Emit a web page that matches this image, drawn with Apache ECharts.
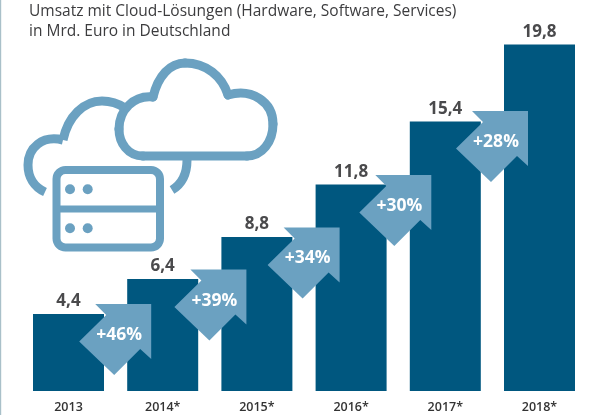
<!DOCTYPE html>
<html><head><meta charset="utf-8">
<style>html,body{margin:0;padding:0;background:#fff}#c{width:600px;height:415px}</style>
<script src="https://cdn.jsdelivr.net/npm/echarts@6/dist/echarts.min.js"></script>
</head><body><div id="c"></div>
<script>
const categories = ['2013','2014*','2015*','2016*','2017*','2018*'];
const values = [4.4,6.4,8.8,11.8,15.4,19.8];
const valueLabels = ['4,4','6,4','8,8','11,8','15,4','19,8'];
const growthLabels = ['+46%','+39%','+34%','+30%','+28%'];
const growthAnchor = [4.97,6.94,9.35,12.34,16.0];
const growthCats = [1,2,3,4,5];

const ARROW=[[0,0],[-56,0],[-45,11],[-72,37.5],[-37,71],[-11,45],[0,55]];
const NUDGE=[-11.5,-10.5,-11.5,-14,-11.5];
const cloud='#6ba1c1', bar='#00577f', ink='#4a4a4c';
const font='"Open Sans"';
const chart=echarts.init(document.getElementById('c'),null,{renderer:'canvas'});
const stroke={fill:'none',stroke:cloud,lineWidth:9,lineCap:'round'};
const butt={fill:'none',stroke:cloud,lineWidth:9,lineCap:'butt'};
function curves(start,segs,style){
  let p=start;
  return segs.map(s=>{
    const el={type:'bezierCurve',silent:true,style:style||stroke,
      shape:{x1:p[0],y1:p[1],cpx1:s[0],cpy1:s[1],cpx2:s[2],cpy2:s[3],x2:s[4],y2:s[5]}};
    p=[s[4],s[5]];
    return el;
  });
}
chart.setOption({
 animation:false,
 backgroundColor:'#fff',
 grid:{left:21.4,right:13.4,top:41,bottom:24},
 xAxis:{type:'category',data:categories,axisLine:{show:false},axisTick:{show:false},
   axisLabel:{color:'#333',fontFamily:font,fontWeight:600,fontSize:12.5,margin:9.5}},
 yAxis:{type:'value',min:0,max:20,show:false,splitLine:{show:false}},
 series:[
  {type:'bar',data:values,barWidth:71,itemStyle:{color:bar},z:2,
   label:{show:true,position:'top',distance:4,color:ink,fontFamily:font,fontWeight:700,fontSize:17,
     formatter:p=>valueLabels[p.dataIndex]}},
  {type:'custom',z:3,data:growthCats.map((c,i)=>[c,growthAnchor[i],growthLabels[i]]),
   encode:{x:0,y:1},
   renderItem(params,api){
     const p=api.coord([api.value(0),api.value(1)]);
     const x=p[0]+NUDGE[params.dataIndex],y=p[1];
     return {type:'group',children:[
       {type:'polygon',shape:{points:ARROW.map(a=>[x+a[0],y+a[1]])},style:{fill:cloud}},
       {type:'text',style:{x:x-32,y:y+31,text:growthLabels[params.dataIndex],fill:'#fff',
         font:'700 17.5px "Open Sans"',textAlign:'center',textVerticalAlign:'middle'}}
     ]};
   }}
 ],
 graphic:[
  {type:'rect',shape:{x:0,y:0,width:1.2,height:415},style:{fill:'#a9c0c9'},silent:true},
  {type:'text',x:29,y:2,style:{text:'Umsatz mit Cloud-Lösungen (Hardware, Software, Services)\nin Mrd. Euro in Deutschland',
    fill:'#3c3c3e',font:'15.5px "Open Sans"',lineHeight:20}},
  ...curves([153,97],[[158,76,170,63,185,63],[206,63,222,76,228,95],[252,88,273,102,273,124],[273,142,262,156,247,156],[210,156,180,156,143,156],[128,156,119,143,119,129],[119,110,134,95,153,97]]),
  ...curves([45,192],[[34,187,28,177,28,165],[28,148,42,135,63,140]],butt),
  ...curves([63,140],[[68,116,84,101,102,101],[111,101,119,104,125,108]],butt),
  ...curves([187,160],[[187,174,182,184,172,190]],butt),
  {type:'rect',shape:{x:56.5,y:170,width:103.5,height:77.5,r:9},style:{fill:'none',stroke:cloud,lineWidth:8}},
  {type:'line',shape:{x1:57,y1:209,x2:160,y2:209},style:{stroke:cloud,lineWidth:7}},
  {type:'circle',shape:{cx:70,cy:189.3,r:5},style:{fill:cloud}},
  {type:'circle',shape:{cx:87.7,cy:189.3,r:5},style:{fill:cloud}},
  {type:'circle',shape:{cx:70,cy:228.3,r:5},style:{fill:cloud}},
  {type:'circle',shape:{cx:87.7,cy:228.3,r:5},style:{fill:cloud}}
 ]
});
</script></body></html>
